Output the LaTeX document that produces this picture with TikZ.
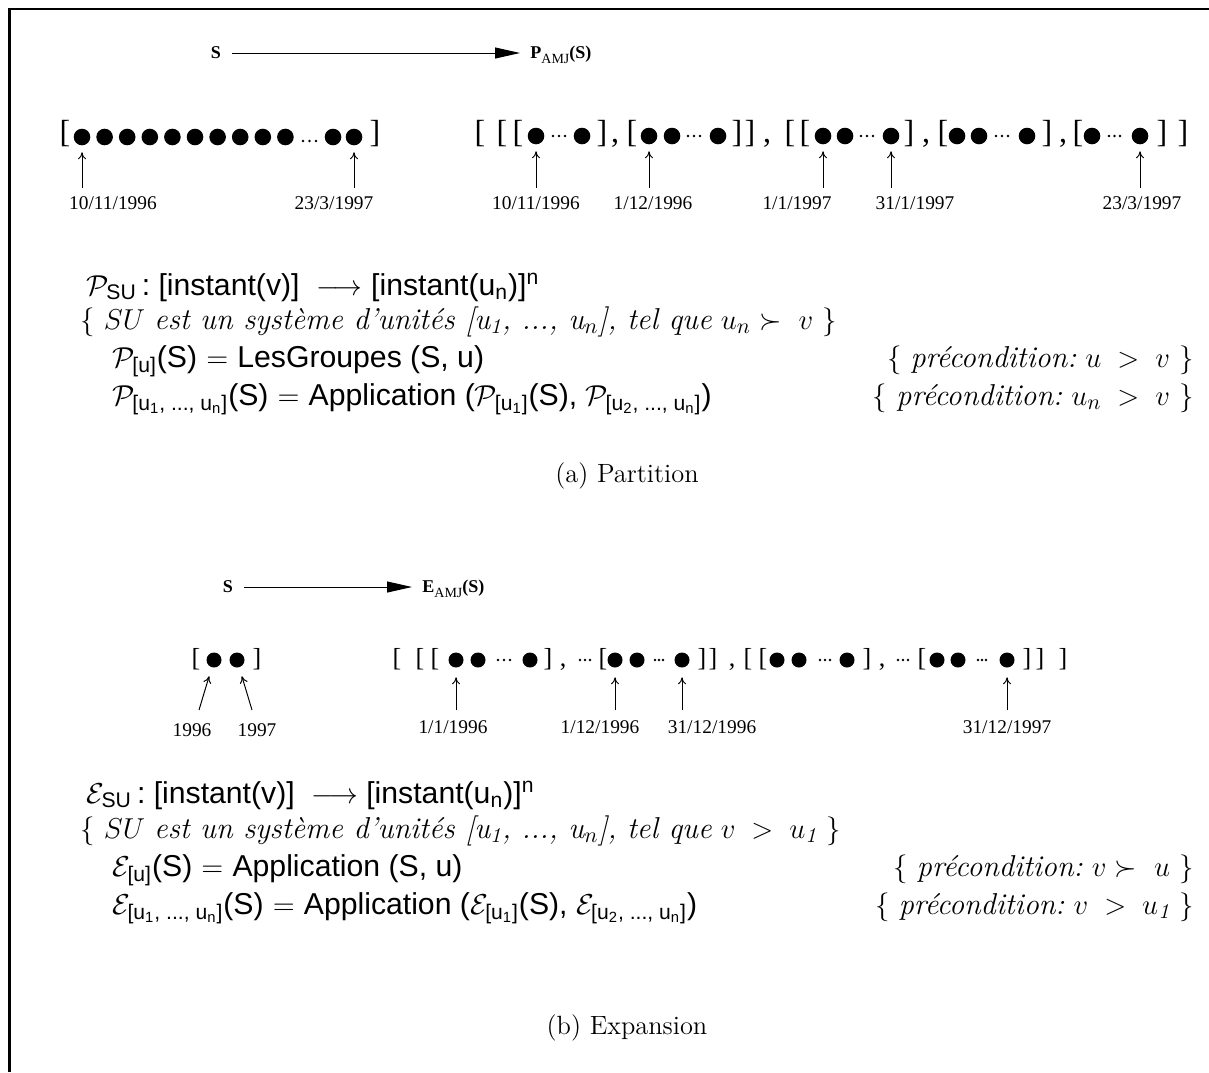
\documentclass[tikz,border=0pt]{standalone}
\usepackage{fontspec,amsmath}
\usetikzlibrary{arrows.meta}
\newfontfamily\timesf{Liberation Serif}
\newfontfamily\helv{Liberation Sans}
\newcommand\sfm[1]{\text{\helv #1}}

\begin{document}
\begin{tikzpicture}[x=0.5pt,y=-0.5pt,
  bigdot/.style={circle,fill,inner sep=0pt,minimum size=8.3pt},
  middot/.style={circle,fill,inner sep=0pt,minimum size=7.5pt},
  brkA/.style={font=\timesf\fontsize{16}{18}\selectfont,anchor=base,inner sep=0pt},
  brkB/.style={font=\timesf\fontsize{13}{15}\selectfont,anchor=base,inner sep=0pt},
  datelbl/.style={font=\timesf\fontsize{9.7}{11}\selectfont,inner sep=0pt},
  maplbl/.style={font=\timesf\bfseries\fontsize{9}{10}\selectfont,inner sep=0pt},
  ptr/.style={-{To[length=3.5pt,width=4pt]},line width=0.5pt},
  mapto/.style={-{Triangle[length=12.5pt,width=5.5pt]},line width=0.5pt,shorten <=5.5pt,shorten >=5pt},
  formula/.style={font=\fontsize{15.1}{18}\selectfont,anchor=base west,inner sep=0pt},
  cond/.style={font=\fontsize{15.1}{18}\selectfont,anchor=base east,inner sep=0pt},
  capt/.style={font=\fontsize{13.2}{16}\selectfont,anchor=base,inner sep=0pt}]
\useasboundingbox (0,0) rectangle (1209,1072);
\draw[line width=1.2pt] (9.5,1072) -- (9.5,9) -- (1209,9);
% (a) Partition: the series S and its partition
\node[maplbl] (s1) at (216,53) {S};
\node[maplbl,anchor=west] (p1) at (530,55) {P\raisebox{-2.5pt}{\mdseries\fontsize{7}{8}\selectfont AMJ}(S)};
\draw[mapto] (s1.east) -- (s1.east -| p1.west);
\foreach \x/\c [count=\i] in {65/[,375/]} \node[brkA] (la\i) at (\x,142) {\c};
\foreach \x [count=\i] in {82,104.6,127.2,149.8,172.4,195,217.6,240.2,262.8,285.4,333,354} \node[bigdot] (a\i) at (\x,137) {};
\foreach \x in {303,309.5,316} \fill (\x,141) circle (0.7pt);
\foreach \x/\c [count=\i] in {480/[,502/[,518/[,632/[,790/[,805/[,943/[,1078/[,602/],737/],750/],909/],1047/],1162/],1183/]} \node[brkA] (lb\i) at (\x,142) {\c};
\foreach \x [count=\i] in {615,767,926,1063} \node[brkA] (cb\i) at (\x,142) {,};
\foreach \x [count=\i] in {536,582,649,672,718,823,845,891,957,979,1027,1092,1140} \node[bigdot] (b\i) at (\x,136) {};
\foreach \x in {553,559,565,688,694,700,861,867,873,996,1002,1008,1109,1114.5,1120} \fill (\x,136) circle (0.7pt);
\foreach \d/\x/\lx/\txt in {a1/82/113/10\slash 11\slash 1996,a12/354/334/23\slash 3\slash 1997,b1/536/536/10\slash 11\slash 1996,b3/649/653/1\slash 12\slash 1996,b6/823/797/1\slash 1\slash 1997,b8/891/915/31\slash 1\slash 1997,b13/1140/1142/23\slash 3\slash 1997}{
  \coordinate (t\d) at (\x,188);
  \node[datelbl] (n\d) at (\lx,203) {\txt};
  \draw[ptr,shorten >=3.3pt] (t\d) -- (\d);
}
\node[formula] (fa1) at (86,295) {$\mathcal{P}_{\sfm{SU}}$\helv\,:\ [instant(v)]\ \ $\longrightarrow$ [instant(u$_{\sfm{n}}$)]$^{\sfm{n}}$};
\node[formula] (fa2) at (80,329) {$\{$\ $SU$ {\itshape est un système d'unités [u$_{\mathit{1}}$, ..., u$_n$], tel que} $u_n \succ\ v$\ $\}$};
\node[formula] (fa3) at (112,367) {$\mathcal{P}_{\sfm{[u]}}${\helv(S)} $=$ {\helv LesGroupes (S, u)}};
\node[cond] (ca3) at (1194,367) {$\{$\ \textit{précondition:}\ $u\;>\;v$\ $\}$};
\node[formula] (fa4) at (112,405) {$\mathcal{P}_{\sfm{[u$_{\text{1}}$, ..., u$_{\text{n}}$]}}${\helv(S)} $=$ {\helv Application (}$\mathcal{P}_{\sfm{[u$_{\text{1}}$]}}${\helv(S), }$\mathcal{P}_{\sfm{[u$_{\text{2}}$, ..., u$_{\text{n}}$]}}${\helv)}};
\node[cond] (ca4) at (1194,405) {$\{$\ \textit{précondition:}\ $u_n\;>\;v$\ $\}$};
\node[capt] (capa) at (627,482) {(a) Partition};
% (b) Expansion: the series S and its expansion
\node[maplbl] (s2) at (228,587) {S};
\node[maplbl,anchor=west] (e1) at (422,589) {E\raisebox{-2.5pt}{\mdseries\fontsize{7}{8}\selectfont AMJ}(S)};
\draw[mapto] (s2.east) -- (s2.east -| e1.west);
\foreach \x/\c [count=\i] in {196/[,257/]} \node[brkB] (lc\i) at (\x,666) {\c};
\foreach \x [count=\i] in {214,237} \node[middot] (c\i) at (\x,660) {};
\foreach \x/\c [count=\i] in {397/[,420/[,435/[,603/[,748/[,763/[,922/[,548/],702/],713/],867/],1027/],1040/],1063/]} \node[brkB] (ld\i) at (\x,666) {\c};
\foreach \x [count=\i] in {563,732,882} \node[brkB] (cd\i) at (\x,666) {,};
\foreach \x [count=\i] in {456,478,530,615,637,682,777,799,847,937,958,1007} \node[middot] (d\i) at (\x,660) {};
\foreach \x in {498,504,510,580,585,590,655,659,663,820,825,830,898,903,908,978,982,986} \fill (\x,660) circle (0.65pt);
\foreach \d/\x/\lx/\txt in {c1/199/192/1996,c2/252/257/1997}{
  \coordinate (t\d) at (\x,710);
  \node[datelbl] (n\d) at (\lx,730) {\txt};
}
\draw[ptr,shorten >=4.5pt] (tc1) -- (c1);
\draw[ptr,shorten >=4.5pt] (tc2) -- (c2);
\foreach \d/\x/\lx/\txt in {d1/456/453/1\slash 1\slash 1996,d4/615/600/1\slash 12\slash 1996,d6/682/712/31\slash 12\slash 1996,d12/1007/1007/31\slash 12\slash 1997}{
  \coordinate (t\d) at (\x,710);
  \node[datelbl] (n\d) at (\lx,727) {\txt};
  \draw[ptr,shorten >=4.7pt] (t\d) -- (\d);
}
\node[formula] (fb1) at (86,803) {$\mathcal{E}_{\sfm{SU}}$\helv\,:\ [instant(v)]\ \ $\longrightarrow$ [instant(u$_{\sfm{n}}$)]$^{\sfm{n}}$};
\node[formula] (fb2) at (80,838) {$\{$\ $SU$ {\itshape est un système d'unités [u$_{\mathit{1}}$, ..., u$_n$], tel que} $v\;>\;u_{\mathit{1}}$\ $\}$};
\node[formula] (fb3) at (112,876) {$\mathcal{E}_{\sfm{[u]}}${\helv(S)} $=$ {\helv Application (S, u)}};
\node[cond] (cb3) at (1194,876) {$\{$\ \textit{précondition:}\ $v \succ\ u$\ $\}$};
\node[formula] (fb4) at (112,914) {$\mathcal{E}_{\sfm{[u$_{\text{1}}$, ..., u$_{\text{n}}$]}}${\helv(S)} $=$ {\helv Application (}$\mathcal{E}_{\sfm{[u$_{\text{1}}$]}}${\helv(S), }$\mathcal{E}_{\sfm{[u$_{\text{2}}$, ..., u$_{\text{n}}$]}}${\helv)}};
\node[cond] (cb4) at (1194,914) {$\{$\ \textit{précondition:}\ $v\;>\;u_{\mathit{1}}$\ $\}$};
\node[capt] (capb) at (627,1034) {(b) Expansion};
\end{tikzpicture}
\end{document}
